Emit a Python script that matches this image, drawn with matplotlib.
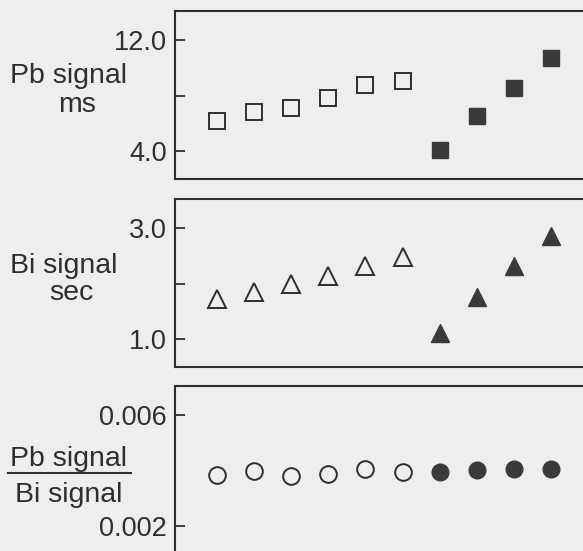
import numpy as np
import matplotlib
matplotlib.use("Agg")
import matplotlib.pyplot as plt
from matplotlib.lines import Line2D

# sample index along x (no axis labels in the original)
samples = [1, 2, 3, 4, 5, 6, 7, 8, 9, 10]

# Pb signal (ms): open squares then filled squares
pb_open = [6.2, 6.85, 7.14, 7.86, 8.79, 9.08]
pb_filled = [4.11, 6.56, 8.58, 10.74]

# Bi signal (sec): open triangles then filled triangles
bi_open = [1.73, 1.84, 2.0, 2.14, 2.32, 2.47]
bi_filled = [1.12, 1.75, 2.31, 2.85]

# Pb/Bi ratio: open circles then filled circles
ratio_open = [0.00386, 0.0040, 0.00382, 0.00389, 0.00407, 0.00396]
ratio_filled = [0.00396, 0.00404, 0.00407, 0.00407]

pb_ticks = [4.0, 8.0, 12.0]
pb_ticklabels = ["4.0", "", "12.0"]
bi_ticks = [1.0, 2.0, 3.0]
bi_ticklabels = ["1.0", "", "3.0"]
ratio_ticks = [0.002, 0.006]
ratio_ticklabels = ["0.002", "0.006"]

bg = "#eeeeee"
ink = "#2e2e2e"
W, H = 583, 551
plt.rcParams["font.family"] = ["Liberation Sans", "DejaVu Sans"]

fig = plt.figure(figsize=(W / 100, H / 100), dpi=100, facecolor=bg)

def px(x0, y0, x1, y1):
    # pixel box -> figure fraction [left, bottom, width, height]
    return [x0 / W, 1 - y1 / H, (x1 - x0) / W, (y1 - y0) / H]

ax1 = fig.add_axes(px(175, 11, 590, 179))
ax2 = fig.add_axes(px(175, 199, 590, 367))
ax3 = fig.add_axes(px(175, 386, 590, 560))

n_open = len(pb_open)
x_open = samples[:n_open]
x_filled = samples[n_open:]

ms_sq = 11.5
ax1.plot(x_open, pb_open, ls="none", marker="s", ms=ms_sq, mfc="none", mec=ink, mew=1.4)
ax1.plot(x_filled, pb_filled, ls="none", marker="s", ms=ms_sq, mfc="#3a3a3a", mec="#3a3a3a")
ax1.set_ylim(2.0, 14.1)
ax1.set_yticks(pb_ticks)
ax1.set_yticklabels(pb_ticklabels)

ms_tri = 13
ax2.plot(x_open, bi_open, ls="none", marker="^", ms=ms_tri, mfc="none", mec=ink, mew=1.4)
ax2.plot(x_filled, bi_filled, ls="none", marker="^", ms=ms_tri, mfc="#3a3a3a", mec="#3a3a3a")
ax2.set_ylim(0.5, 3.52)
ax2.set_yticks(bi_ticks)
ax2.set_yticklabels(bi_ticklabels)

ms_c = 12
ax3.plot(x_open, ratio_open, ls="none", marker="o", ms=ms_c, mfc="none", mec=ink, mew=1.4)
ax3.plot(x_filled, ratio_filled, ls="none", marker="o", ms=ms_c, mfc="#3a3a3a", mec="#3a3a3a")
ax3.set_ylim(0.00079, 0.00704)
ax3.set_yticks(ratio_ticks)
ax3.set_yticklabels(ratio_ticklabels)

for ax in (ax1, ax2, ax3):
    ax.set_facecolor(bg)
    ax.set_xlim(-0.13, 11.05)
    ax.set_xticks([])
    ax.spines["right"].set_visible(False)
    for s in ("left", "top", "bottom"):
        ax.spines[s].set_color(ink)
        ax.spines[s].set_linewidth(1.5)
    ax.tick_params(axis="y", direction="in", length=7.5, width=1.3, color=ink,
                   labelsize=19.5, labelcolor=ink, pad=6)
ax3.spines["bottom"].set_visible(False)

# y-axis labels placed as free text
def label(x, y, s, ha="center"):
    fig.text(x / W, 1 - y / H, s, ha=ha, va="baseline", fontsize=20.5, color=ink)

label(69, 83, "Pb signal")
label(77, 112, "ms")
label(64, 273, "Bi signal")
label(71, 300, "sec")
label(69, 466, "Pb signal")
label(69, 502, "Bi signal")
fig.add_artist(Line2D([8 / W, 131 / W], [1 - 473 / H, 1 - 473 / H],
                      transform=fig.transFigure, color=ink, lw=1.5))

fig.savefig("out.png", dpi=100, facecolor=bg)
